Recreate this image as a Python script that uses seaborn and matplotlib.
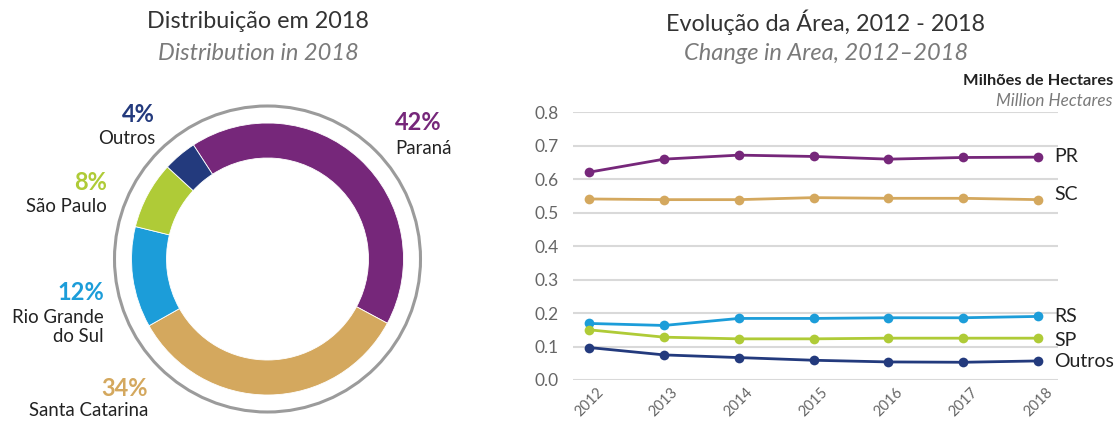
import matplotlib
matplotlib.use("Agg")
import matplotlib.pyplot as plt
import seaborn as sns
import pandas as pd
from matplotlib.patches import Circle

# Distribuição em 2018 (%)
regioes = ["Paraná", "Santa Catarina", "Rio Grande\ndo Sul", "São Paulo", "Outros"]
participacao = [42, 34, 12, 8, 4]
cores = ["#76277A", "#D4A85E", "#1C9DD9", "#AFCB37", "#233A7D"]

# Evolução da área (milhões de hectares)
anos = [2012, 2013, 2014, 2015, 2016, 2017, 2018]
siglas = ["PR", "SC", "RS", "SP", "Outros"]
area_pr = [0.621, 0.660, 0.672, 0.668, 0.660, 0.665, 0.666]
area_sc = [0.541, 0.539, 0.539, 0.545, 0.543, 0.543, 0.539]
area_rs = [0.169, 0.163, 0.184, 0.184, 0.186, 0.186, 0.190]
area_sp = [0.150, 0.128, 0.123, 0.123, 0.125, 0.125, 0.125]
area_outros = [0.097, 0.075, 0.067, 0.059, 0.054, 0.053, 0.057]

sns.set_style("white")
plt.rcParams["font.family"] = ["Lato", "DejaVu Sans"]

W, H = 1115, 421
fig = plt.figure(figsize=(W / 100, H / 100), dpi=100)

# titles (pixel coords from the top)
def fig_text(x, y, s, **kw):
    fig.text(x / W, 1 - y / H, s, ha="center", va="center", **kw)

fig_text(258, 22, "Distribuição em 2018", fontsize=16.8, color="#333333")
fig_text(258, 53, "Distribution in 2018", fontsize=17, color="#7a7a7a", style="italic")
fig_text(826, 22, "Evolução da Área, 2012 - 2018", fontsize=16.8, color="#333333")
fig_text(826, 53, "Change in Area, 2012\u20132018", fontsize=17, color="#7a7a7a", style="italic")
fig.text(1113 / W, 1 - 81 / H, "Milhões de Hectares", ha="right", va="center",
         fontsize=11.8, color="#222222", fontweight="bold")
fig.text(1113 / W, 1 - 101 / H, "Million Hectares", ha="right", va="center",
         fontsize=12.3, color="#7a7a7a", style="italic")

# ---- donut ----
ax1 = fig.add_axes([0, 0, 557.5 / W, 1])
cx, cy = 267.5, H - 259
ax1.pie(participacao, colors=cores, startangle=123, counterclock=False,
        radius=136, center=(cx, cy),
        wedgeprops=dict(width=35, edgecolor="white", linewidth=0.6))
ax1.add_patch(Circle((cx, cy), 153, fill=False, edgecolor="#9b9b9b", linewidth=2.2))
ax1.set_xlim(0, 557.5)
ax1.set_ylim(0, H)
ax1.set_aspect("equal")
ax1.axis("off")

# label anchors: (x, y of percent, y of name, ha)
posicoes = [(395, 123, 149, "left"), (148, 389, 410, "right"),
            (104, 292, 327, "right"), (107, 182, 207, "right"),
            (155, 115, 139, "right")]
for nome, pct, cor, (x, yp, yn, ha) in zip(regioes, participacao, cores, posicoes):
    ax1.text(x, H - yp, f"{pct}%", ha=ha, va="center", fontsize=17,
             fontweight="bold", color=cor)
    ax1.text(x, H - yn, nome, ha=ha, va="center", fontsize=13.4, color="#222222",
             multialignment="right" if ha == "right" else "left")

# ---- line chart ----
ax2 = fig.add_axes([572.7 / W, 41 / H, (1058.3 - 572.7) / W, (380 - 112.3) / H])
df = pd.DataFrame({
    "ano": anos * 5,
    "regiao": sum([[s] * len(anos) for s in siglas], []),
    "area": area_pr + area_sc + area_rs + area_sp + area_outros,
})
paleta = {"PR": cores[0], "SC": cores[1], "RS": cores[2], "SP": cores[3], "Outros": cores[4]}
sns.lineplot(data=df, x="ano", y="area", hue="regiao", palette=paleta, ax=ax2,
             marker="o", markersize=7, markeredgewidth=0, linewidth=2,
             legend=False, clip_on=False, zorder=3)

ax2.set_xlim(2011.78, 2018.27)
ax2.set_ylim(0, 0.8)
ax2.set_yticks([0, 0.1, 0.2, 0.3, 0.4, 0.5, 0.6, 0.7, 0.8])
ax2.set_yticklabels([f"{v:.1f}" for v in ax2.get_yticks()])
ax2.set_xticks(anos)
ax2.set_xticklabels([str(a) for a in anos], rotation=45, ha="center")
ax2.tick_params(axis="both", length=0, colors="#666666")
ax2.tick_params(axis="y", labelsize=12.5, pad=10)
ax2.tick_params(axis="x", labelsize=10.5, pad=4)
ax2.grid(axis="y", color="#d9d9d9", linewidth=1.5)
ax2.set_axisbelow(True)
for sp in ax2.spines.values():
    sp.set_visible(False)
ax2.set_xlabel("")
ax2.set_ylabel("")

# end labels
fim = {"PR": 156.7, "SC": 195, "RS": 316.7, "SP": 340.7, "Outros": 361.7}
for s in siglas:
    y_px = fim[s]
    ax2.annotate(s, xy=(1054 / W, 1 - y_px / H), xycoords="figure fraction",
                 ha="left", va="center", fontsize=14, color="#222222")

fig.savefig("out.png", dpi=100)
